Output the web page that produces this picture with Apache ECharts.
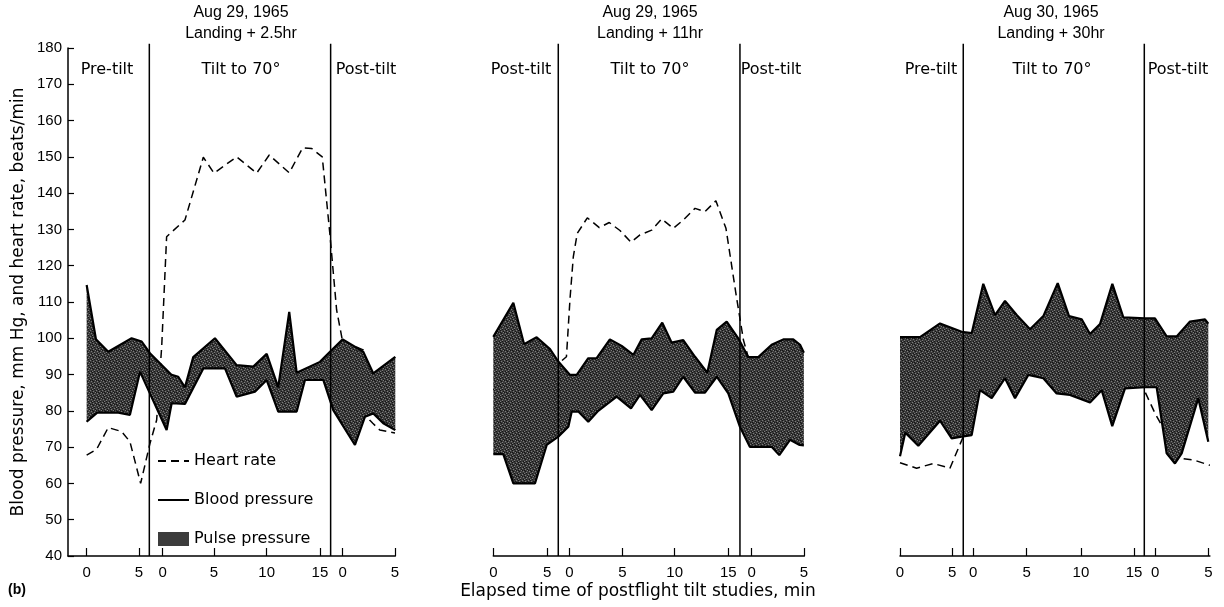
<!DOCTYPE html>
<html>
<head>
<meta charset="utf-8">
<script src="https://cdn.jsdelivr.net/npm/echarts@6/dist/echarts.min.js"></script>
<style>
  html, body { margin: 0; padding: 0; background: #fff; }
  #chart { width: 1224px; height: 607px; }
</style>
</head>
<body>
<div id="chart"></div>
<script>
// x values are positions on each panel's elapsed-time scale
// (pre-tilt 0-5, tilt 0-15, post-tilt 0-5 laid end to end)
const tickLabels = ['0', '5', '0', '5', '10', '15', '0', '5']
const tickPos1 = [0, 4.99, 7.25, 12.15, 17.18, 22.26, 24.43, 29.42]
const tickPos2 = [0, 5.09, 7.17, 12.17, 17.11, 22.17, 24.38, 29.3]
const tickPos3 = [0, 4.91, 6.88, 11.89, 16.99, 21.97, 23.97, 28.95]
const tiltLines1 = [5.98, 23.28]
const tiltLines2 = [6.13, 23.27]
const tiltLines3 = [5.94, 22.94]

// panel 1: Aug 29, landing + 2.5 hr
const hr1 = [[0,67.8],[0.95,69.4],[2.06,75.4],[3.34,74.3],[4.13,71.5],[5.15,60],[6.04,71],[6.68,77.5],[7.16,97.7],[7.63,128],
  [9.38,132.6],[11.13,149.9],[12.15,145.5],[14.31,150],[16.22,145.5],[17.42,150.5],[19.33,145.6],[20.61,152.5],[21.47,152.3],[22.48,150],[23.2,129],
  [23.85,107.8],[24.43,99],[25.4,98],[26.39,96.8],[27.0,77.5],[27.3,76.6],[27.97,74.7],[29.42,73.9]]
const sys1 = [[0,114.7],[0.89,99.7],[2.06,96.3],[4.29,100],[5.25,99.1],[6.04,95.9],[8.11,89.9],[8.74,89.4],[9.38,86.5],[10.17,94.8],
  [12.24,100],[14.31,92.6],[15.9,92.2],[17.18,95.7],[18.28,86.5],[19.33,107.3],[20.04,90.5],[22.26,93.5],[23.22,96.3],[24.43,99.7],
  [26.39,96.3],[27.35,90.3],[29.45,94.9]]
const dia1 = [[0,77],[1.01,79.5],[3.02,79.5],[4.13,78.9],[5.09,90.8],[7.63,74.7],[8.11,82.1],[9.38,81.9],[11.13,91.7],[13.2,91.7],
  [14.31,83.9],[16.06,85.3],[17.18,88.5],[18.28,79.8],[20.04,79.8],[20.83,88.5],[22.58,88.5],[23.53,80.2],[25.6,70.6],[26.56,78.4],
  [27.35,79.3],[28.3,76.6],[29.45,74.7]]

// panel 2: Aug 29, landing + 11 hr
const hr2 = [[0,86],[1,84],[2,80],[3,80],[4,84],[5,88],[6.13,93],[6.9,94.9],
  [7.24,111],[7.55,122.5],[7.92,128.9],[8.87,133.2],[10.0,130.5],[10.94,131.9],[11.95,129.7],[12.99,126.5],[13.84,128.5],[14.94,129.8],
  [15.89,132.9],[16.98,130.3],[17.92,132.6],[19.03,135.8],[19.97,134.9],[21.0,137.9],[21.95,130.3],[22.96,111],
  [23.6,99.5],[24.5,90],[25.5,84],[26.5,82],[27.5,80],[29.2,80]]
const sys2 = [[0,100.4],[1.89,109.8],[2.9,98.4],[4.09,100.3],[5.35,97],[6.13,93.6],[7.24,89.9],[7.87,89.9],[8.96,94.5],[9.75,94.5],
  [11.0,99.7],[12.11,97.9],[13.21,95.4],[14.0,99.7],[14.94,100],[15.94,104.3],[16.83,98.8],[17.92,99.5],[19.03,94.9],[20.19,90.5],
  [21.08,102.3],[22.02,104.6],[23.11,100],[24.06,94.8],[25.0,94.8],[26.26,98.2],[27.36,99.7],[28.3,99.7],[28.94,98.2],[29.3,96]]
const dia2 = [[0,68.1],[0.94,68.1],[1.89,60],[3.93,60],[5.04,70.6],[6.13,72.9],[7.08,75.6],[7.4,79.8],[8.02,79.8],[8.96,77],
  [9.9,80],[11.64,83.9],[12.99,80.7],[13.84,84.4],[14.94,80.2],[16.04,84.8],[16.98,85.3],[17.92,89.4],[19.03,85],[19.97,85],
  [21.08,89.4],[22.17,84.8],[23.27,75.6],[24.2,70.1],[25.16,70.1],[26.26,70.1],[26.98,67.8],[27.99,72],[28.9,70.6],[29.3,70.5]]

// panel 3: Aug 30, landing + 30 hr
const hr3 = [[0,65.7],[1.56,64.2],[3.13,65.5],[4.69,64.2],[5.94,72.9],[7.5,86.5],
  [9,93],[11,95],[13,94],[15,95],[17,94],[19,93],[21,94],[22.5,90],
  [23.0,85.3],[23.95,79.3],[25.0,73.8],[26.3,66.9],[27.54,66.5],[29.1,65]]
const sys3 = [[0,100.3],[1.88,100.3],[3.76,104.1],[5.79,101.8],[6.73,101.4],[7.82,115],[8.92,106.4],[9.86,110.3],[10.96,106.4],
  [12.21,102.5],[13.46,106.1],[14.81,115.2],[15.87,106.1],[17.06,105.2],[17.84,101.2],[18.78,103.9],[19.94,115],[20.97,105.8],
  [23.0,105.5],[23.94,105.5],[25.04,100.5],[25.98,100.5],[27.23,104.6],[28.64,105.2],[28.95,104]]
const dia3 = [[0,67.5],[0.5,74],[1.72,70.4],[3.76,77.3],[4.85,72.4],[5.79,72.9],[6.73,73.3],[7.51,85.7],[8.61,83.5],[9.86,89],
  [10.8,83.5],[12.05,89.9],[13.46,89],[14.71,84.8],[15.96,84.4],[17.84,82.3],[18.94,85.7],[19.93,75.8],[21.13,86.2],[23.0,86.5],
  [24.1,86.5],[25.04,68.3],[25.82,65.5],[26.45,68.3],[28.01,83.5],[28.95,71.5]]

const panels = [
  { hr: hr1, sys: sys1, dia: dia1, ticks: tickPos1, lines: tiltLines1, grid: { left: 68, width: 327.3 }, min: -1.78, max: 29.45 },
  { hr: hr2, sys: sys2, dia: dia2, ticks: tickPos2, lines: tiltLines2, grid: { left: 493.3, width: 311.1 }, min: 0, max: 29.35 },
  { hr: hr3, sys: sys3, dia: dia3, ticks: tickPos3, lines: tiltLines3, grid: { left: 900, width: 309.9 }, min: 0, max: 29.1 }
]

const FONT = 'Liberation Sans'
const FONT2 = 'DejaVu Sans'

// speckled grey fill for the pulse pressure band
function makePattern () {
  let c = document.createElement('canvas')
  c.width = 6
  c.height = 6
  let ctx = c.getContext('2d')
  ctx.fillStyle = '#3a3a3a'
  ctx.fillRect(0, 0, 6, 6)
  ctx.fillStyle = '#7d7d7d'
  ;[[0,0],[3,1],[1,3],[4,4],[5,2],[2,5]].forEach(p => ctx.fillRect(p[0], p[1], 1, 1))
  ctx.fillStyle = '#151515'
  ;[[2,0],[5,1],[0,2],[3,3],[1,5],[4,5],[2,2]].forEach(p => ctx.fillRect(p[0], p[1], 1, 1))
  return c
}
const bandFill = { image: makePattern(), repeat: 'repeat' }

function bandRender (top, bottom) {
  return function (params, api) {
    let pts = top.concat(bottom.slice().reverse()).map(p => api.coord(p))
    return { type: 'polygon', shape: { points: pts }, style: { fill: bandFill, stroke: null } }
  }
}

let grids = [], xAxes = [], yAxes = [], series = []
panels.forEach((p, i) => {
  grids.push({ left: p.grid.left, width: p.grid.width, top: 48, height: 508, outerBoundsMode: 'none' })
  xAxes.push({
    gridIndex: i, type: 'value', min: p.min, max: p.max,
    axisLine: { onZero: false, lineStyle: { color: '#000', width: 1.5 } },
    axisTick: { inside: true, length: 8, customValues: p.ticks, lineStyle: { color: '#000', width: 1.2 } },
    axisLabel: {
      customValues: p.ticks, margin: 9, color: '#000', fontSize: 15, fontFamily: FONT,
      formatter: function (v) {
        let k = 0
        p.ticks.forEach((t, j) => { if (Math.abs(t - v) < Math.abs(p.ticks[k] - v)) k = j })
        return tickLabels[k]
      }
    },
    splitLine: { show: false }
  })
  yAxes.push({
    gridIndex: i, type: 'value', min: 40, max: 180, interval: 10, show: i === 0,
    name: i === 0 ? 'Blood pressure, mm Hg, and heart rate, beats/min' : '',
    nameLocation: 'middle', nameGap: 41,
    nameTextStyle: { fontSize: 17, fontFamily: FONT2, color: '#000' },
    axisLine: { show: true, onZero: false, lineStyle: { color: '#000', width: 1.5 } },
    axisTick: { inside: true, length: 6, lineStyle: { color: '#000', width: 1.2 } },
    axisLabel: { margin: 6, color: '#000', fontSize: 15, fontFamily: FONT },
    splitLine: { show: false }
  })
  series.push({
    name: 'Heart rate', type: 'line', xAxisIndex: i, yAxisIndex: i, data: p.hr,
    symbol: 'none', z: 1, lineStyle: { color: '#000', width: 1.5, type: [8, 5] }, itemStyle: { color: '#000' }
  })
  series.push({
    name: 'Pulse pressure', type: 'custom', xAxisIndex: i, yAxisIndex: i, data: [[0, 0]],
    renderItem: bandRender(p.sys, p.dia), itemStyle: { color: '#3c3c3c' }, z: 2, silent: true
  })
  series.push({
    name: 'Blood pressure', type: 'line', xAxisIndex: i, yAxisIndex: i, data: p.sys,
    symbol: 'none', z: 3, lineStyle: { color: '#000', width: 2.2 }, itemStyle: { color: '#000' }
  })
  series.push({
    name: 'Blood pressure', type: 'line', xAxisIndex: i, yAxisIndex: i, data: p.dia,
    symbol: 'none', z: 3, lineStyle: { color: '#000', width: 2.2 }, itemStyle: { color: '#000' }
  })
  // tilt start / end separators, running a little above the 180 line
  p.lines.forEach(x => {
    series.push({
      name: 'tilt limit', type: 'line', xAxisIndex: i, yAxisIndex: i, data: [[x, 40], [x, 181.2]],
      clip: false, symbol: 'none', z: 4, silent: true, lineStyle: { color: '#000', width: 1.5 }
    })
  })
})

function txt (x, y, s, size, font) {
  return {
    type: 'text', x: x, y: y,
    style: { text: s, fill: '#000', font: (size || 15) + 'px "' + (font || FONT) + '"', textAlign: 'center', textVerticalAlign: 'middle' }
  }
}

let graphics = [
  txt(241, 13, 'Aug 29, 1965', 16), txt(241, 34, 'Landing + 2.5hr', 16),
  txt(650, 13, 'Aug 29, 1965', 16), txt(650, 34, 'Landing + 11hr', 16),
  txt(1051, 13, 'Aug 30, 1965', 16), txt(1051, 34, 'Landing + 30hr', 16),
  txt(107, 70, 'Pre-tilt', 16, FONT2), txt(241, 70, 'Tilt to 70°', 16, FONT2), txt(366, 70, 'Post-tilt', 16, FONT2),
  txt(521, 70, 'Post-tilt', 16, FONT2), txt(650, 70, 'Tilt to 70°', 16, FONT2), txt(771, 70, 'Post-tilt', 16, FONT2),
  txt(931, 70, 'Pre-tilt', 16, FONT2), txt(1052, 70, 'Tilt to 70°', 16, FONT2), txt(1178, 70, 'Post-tilt', 16, FONT2),
  txt(638, 592, 'Elapsed time of postflight tilt studies, min', 17, FONT2),
  { type: 'text', x: 8, y: 590, style: { text: '(b)', fill: '#000', font: 'bold 14px "' + FONT + '"', textAlign: 'left', textVerticalAlign: 'middle' } }
]

const noDot = { color: 'transparent', borderWidth: 0, opacity: 0 }

let chart = echarts.init(document.getElementById('chart'))
chart.setOption({
  animation: false,
  backgroundColor: '#fff',
  grid: grids,
  xAxis: xAxes,
  yAxis: yAxes,
  legend: {
    data: [
      { name: 'Heart rate', itemStyle: noDot },
      { name: 'Blood pressure', itemStyle: noDot },
      { name: 'Pulse pressure', icon: 'rect', itemStyle: { color: '#3c3c3c' } }
    ],
    orient: 'vertical', left: 157, top: 453, padding: 0,
    itemWidth: 31, itemHeight: 14, itemGap: 23, selectedMode: false,
    textStyle: { fontSize: 16, fontFamily: FONT2, color: '#000' }
  },
  graphic: graphics,
  series: series
})
</script>
</body>
</html>
